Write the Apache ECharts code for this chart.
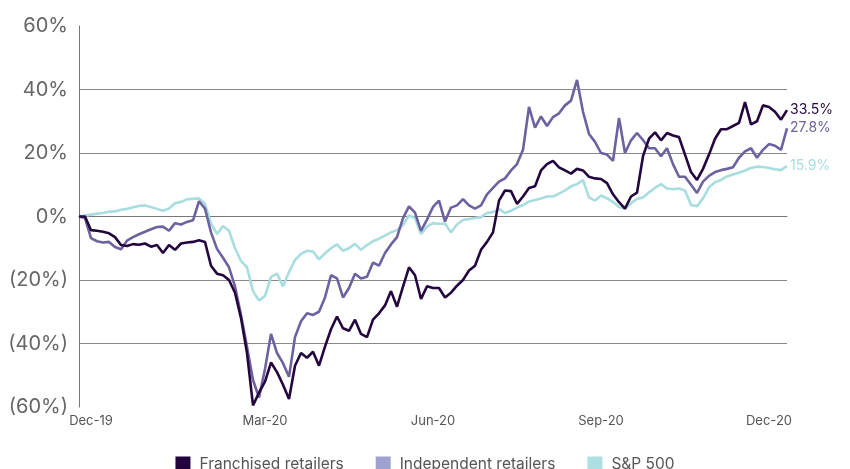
<!DOCTYPE html>
<html>
<head>
<meta charset="utf-8">
<script src="https://cdn.jsdelivr.net/npm/echarts@6/dist/echarts.min.js"></script>
<style>
  html, body { margin: 0; padding: 0; background: #fff; }
  #chart { width: 850px; height: 469px; }
</style>
</head>
<body>
<div id="chart"></div>
<script>
// trading-day samples, Dec-19 .. Dec-20 (values in %)
const xLabels = ['Dec-19', 'Mar-20', 'Jun-20', 'Sep-20', 'Dec-20']
const labelIdx = [2, 31, 59, 87, 115]

const franchised = [
  0, 0, -4.3, -4.5, -4.8, -5.3, -6.5, -9.0, -9.3, -8.7,
  -8.9, -8.5, -9.5, -9.0, -11.5, -9.0, -10.5, -8.5, -8.2, -8.0,
  -7.5, -8.0, -15.5, -18.0, -18.5, -20.0, -24.0, -32.0, -43.0, -59.5,
  -55.5, -52.0, -46.0, -49.0, -53.0, -57.5, -47.0, -43.0, -44.5, -42.6,
  -47.0, -41.0, -35.5, -31.5, -35.2, -36.0, -32.5, -37.0, -38.0, -32.5,
  -30.5, -28.0, -23.5, -28.4, -22.1, -16.0, -18.5, -26.0, -22.0, -22.5,
  -22.5, -25.5, -24.0, -21.8, -20.0, -17.0, -15.5, -10.5, -8.0, -5.0,
  5.0, 8.2, 8.0, 4.0, 6.3, 9.0, 9.5, 14.5, 16.5, 17.5,
  15.5, 14.5, 13.5, 15.0, 14.5, 12.5, 12.0, 11.8, 10.5, 7.0,
  4.5, 2.5, 6.3, 7.5, 19.0, 24.5, 26.5, 24.0, 26.3, 25.5,
  25.0, 19.5, 14.0, 11.5, 15.0, 19.5, 24.5, 27.5, 27.5, 28.5,
  29.5, 36.0, 29.0, 30.0, 35.0, 34.5, 33.0, 30.5, 33.5
]

const independent = [
  0, -0.5, -6.8, -7.8, -8.2, -8.0, -9.6, -10.3, -7.6, -6.5,
  -5.6, -4.8, -4.0, -3.3, -3.2, -4.5, -2.1, -2.5, -1.7, -1.2,
  4.8, 2.5, -5.0, -10.2, -13.0, -16.0, -22.0, -31.0, -41.0, -51.5,
  -57.0, -48.0, -37.0, -43.0, -46.2, -50.5, -38.0, -33.0, -30.5, -31.0,
  -30.0, -25.5, -18.5, -19.5, -25.5, -22.5, -18.0, -19.5, -19.0, -14.5,
  -15.5, -11.5, -8.8, -6.5, -0.5, 3.2, 1.2, -4.5, -1.0, 3.0,
  5.0, -1.6, 2.8, 3.5, 5.5, 3.5, 2.5, 3.5, 7.0, 9.0,
  11.0, 12.0, 14.5, 16.5, 21.0, 34.5, 28.0, 31.5, 28.5, 31.3,
  32.5, 35.0, 36.5, 43.0, 33.0, 26.0, 23.5, 20.0, 19.5, 17.5,
  31.0, 20.0, 24.0, 26.3, 24.1, 21.5, 21.5, 19.0, 21.5, 16.5,
  12.5, 12.5, 10.0, 7.4, 11.0, 12.8, 14.0, 14.6, 15.0, 15.5,
  18.5, 20.5, 21.5, 18.5, 21.0, 22.8, 22.3, 21.0, 27.8
]

const sp500 = [
  0, 0.3, 0.6, 0.9, 1.1, 1.5, 1.6, 2.1, 2.4, 2.9,
  3.3, 3.5, 3.0, 2.4, 1.8, 2.5, 4.2, 4.6, 5.4, 5.6,
  5.7, 4.0, -2.2, -5.5, -3.0, -4.5, -10.0, -14.0, -16.0, -23.5,
  -26.5, -25.0, -19.0, -18.0, -22.0, -17.5, -13.7, -11.8, -10.8, -11.0,
  -13.5, -11.6, -10.0, -8.8, -10.8, -10.0, -8.6, -10.5, -9.0, -7.8,
  -7.0, -6.0, -5.0, -4.3, -2.7, 0.3, -0.5, -5.5, -3.2, -2.1,
  -2.3, -2.2, -5.0, -2.5, -1.1, -0.8, -0.5, -0.2, 1.1, 1.4,
  2.4, 1.1, 1.8, 2.8, 3.6, 4.7, 5.2, 5.7, 6.3, 6.3,
  7.2, 8.2, 9.5, 10.2, 11.5, 6.0, 5.0, 6.6, 5.7, 4.6,
  3.0, 2.4, 4.2, 5.5, 6.0, 7.6, 9.0, 10.2, 8.8, 8.6,
  8.8, 8.2, 3.6, 3.2, 5.7, 9.2, 10.8, 11.5, 12.6, 13.2,
  13.8, 14.5, 15.3, 15.7, 15.6, 15.3, 14.9, 14.6, 15.9
]

const categories = franchised.map((_, i) => {
  const k = labelIdx.indexOf(i)
  return k >= 0 ? xLabels[k] : 'd' + i
})

const chart = echarts.init(document.getElementById('chart'))

const FONT = 'Inter, "Noto Sans", sans-serif'

function lineSeries(name, data, color, z) {
  return {
    name: name,
    type: 'line',
    data: data,
    z: z,
    showSymbol: false,
    symbol: 'none',
    lineStyle: { color: color, width: 2.6 },
    itemStyle: { color: color },
    endLabel: {
      show: true,
      color: color,
      fontFamily: FONT,
      fontSize: 14,
      distance: 3,
      formatter: p => p.value.toFixed(1) + '%',
    },
    animation: false,
  }
}

chart.setOption({
  animation: false,
  grid: { left: 79, right: 63, top: 26, bottom: 62 },
  legend: {
    left: 'center',
    top: 451,
    icon: 'rect',
    itemWidth: 15,
    itemHeight: 15,
    itemGap: 32,
    textStyle: { color: '#555', fontSize: 15.5, fontFamily: FONT, padding: [0, 0, 0, 4] },
    data: [
      { name: 'Franchised retailers', itemStyle: { color: '#22033e' } },
      { name: 'Independent retailers', itemStyle: { color: '#9ea2cf' } },
      { name: 'S&P 500', itemStyle: { color: '#aedfe2' } },
    ],
  },
  xAxis: {
    type: 'category',
    boundaryGap: false,
    data: categories,
    axisLine: { lineStyle: { color: '#777', width: 1 } },
    axisTick: { show: false },
    axisLabel: {
      interval: (i) => labelIdx.indexOf(i) >= 0,
      color: '#555',
      fontSize: 13,
      fontFamily: FONT,
      margin: 8,
    },
    splitLine: { show: false },
  },
  yAxis: {
    type: 'value',
    min: -60,
    max: 60,
    interval: 20,
    axisLine: { show: true, lineStyle: { color: '#777', width: 1 } },
    axisTick: { show: false },
    axisLabel: {
      color: '#666',
      fontSize: 20,
      fontFamily: FONT,
      margin: 11,
      formatter: v => (v < 0 ? '(' + Math.abs(v) + '%)' : v + '%'),
    },
    splitLine: {
      show: true,
      showMinLine: false,
      showMaxLine: false,
      lineStyle: { color: '#888', width: 1 },
    },
  },
  series: [
    lineSeries('S&P 500', sp500, '#a8dde0', 2),
    lineSeries('Independent retailers', independent, '#6d619f', 3),
    lineSeries('Franchised retailers', franchised, '#24063f', 4),
  ],
})

window.addEventListener('resize', () => chart.resize())
</script>
</body>
</html>
